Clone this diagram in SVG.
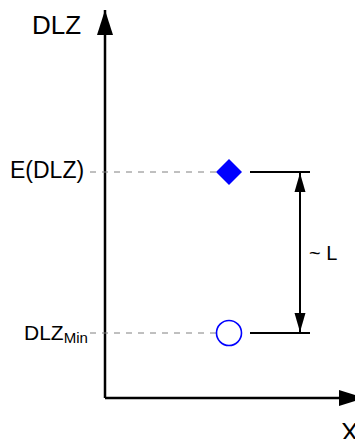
<svg xmlns="http://www.w3.org/2000/svg" width="355" height="439" viewBox="0 0 355 439">
<style>
  text{font-family:"Liberation Sans",Arial,sans-serif;fill:#000}
  .axis{stroke:#000;stroke-width:2.5;fill:none}
  .guide{stroke:#808080;stroke-width:1;stroke-dasharray:6,6;fill:none}
  .tick{stroke:#000;stroke-width:2;fill:none}
  .dim{stroke:#000;stroke-width:2;fill:none}
</style>
<defs>
  <marker id="axhead" markerUnits="userSpaceOnUse" markerWidth="26" markerHeight="18" refX="25" refY="9" orient="auto">
    <path d="M0,1 L25,9 L0,17 Z" fill="#000"/>
  </marker>
  <marker id="dimhead" markerUnits="userSpaceOnUse" markerWidth="20" markerHeight="12" refX="19" refY="6" orient="auto-start-reverse">
    <path d="M0,0.5 L19,6 L0,11.5 Z" fill="#000"/>
  </marker>
</defs>
<g id="connectors">
  <line class="axis" x1="105" y1="398" x2="105" y2="10" marker-end="url(#axhead)"/>
  <line class="axis" x1="105" y1="398" x2="364" y2="398" marker-end="url(#axhead)"/>
  <line class="guide" x1="90" y1="172" x2="216" y2="172"/>
  <line class="guide" x1="90" y1="333" x2="216" y2="333"/>
  <line class="tick" x1="250" y1="172" x2="310" y2="172"/>
  <line class="tick" x1="250" y1="333" x2="310" y2="333"/>
  <line class="dim" x1="300" y1="173" x2="300" y2="332" marker-start="url(#dimhead)" marker-end="url(#dimhead)"/>
</g>
<g id="label-y"><text x="32" y="34" font-size="26">DLZ</text></g>
<g id="label-x"><text x="341" y="441" font-size="26">X</text></g>
<g id="label-edlz"><text x="10" y="178" font-size="23">E(DLZ)</text></g>
<g id="label-dlzmin"><text x="24" y="340" font-size="21">DLZ<tspan font-size="15" dy="3">Min</tspan></text></g>
<g id="label-L"><text x="309" y="260" font-size="20">~ L</text></g>
<g id="node-expected"><path d="M229,159 L242,172 L229,185 L216,172 Z" fill="#0000ff"/></g>
<g id="node-min"><circle cx="229" cy="333" r="12.5" fill="#fff" stroke="#0000ff" stroke-width="1.6"/></g>
</svg>
